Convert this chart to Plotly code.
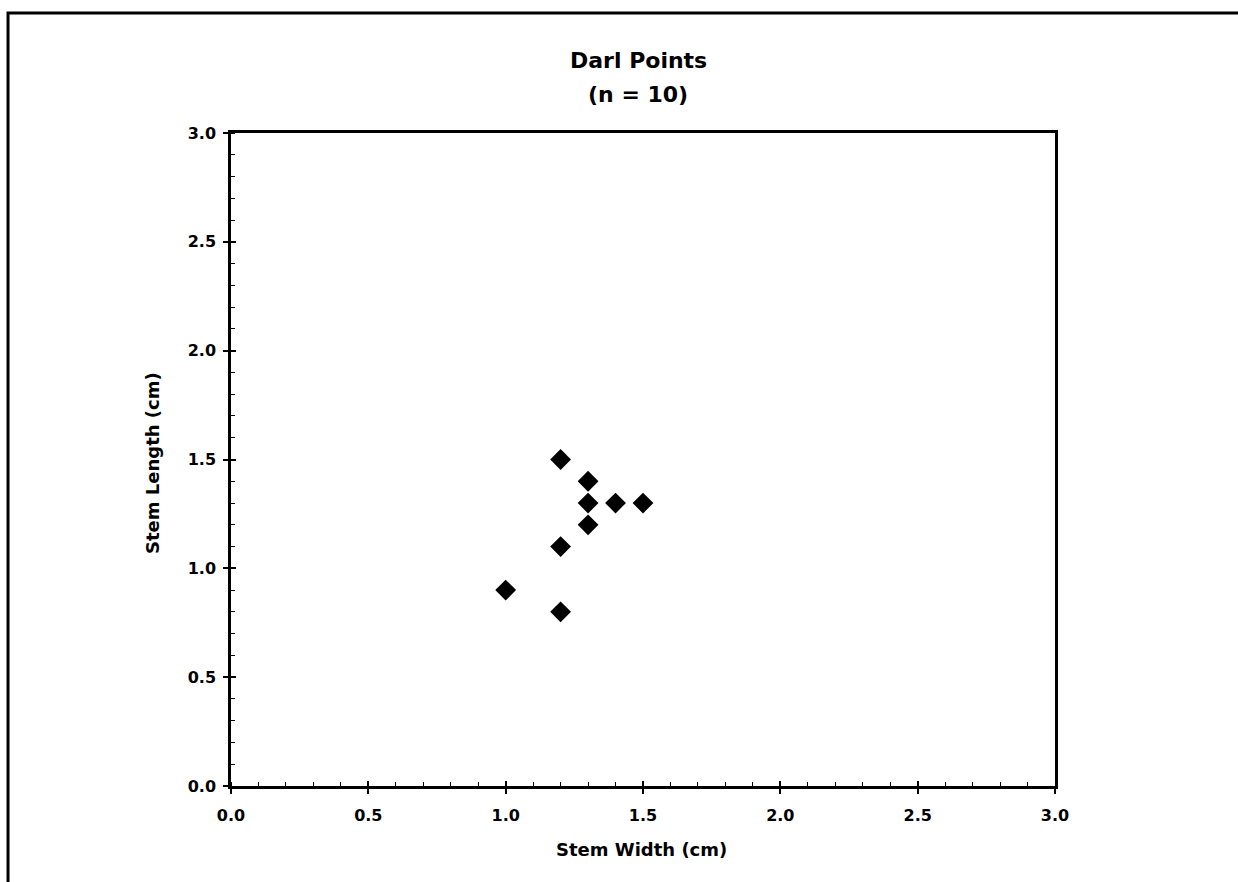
import plotly.graph_objects as go

# Darl point stem measurements (cm)
stem_width = [1.2, 1.3, 1.3, 1.4, 1.5, 1.3, 1.2, 1.0, 1.2]
stem_length = [1.5, 1.4, 1.3, 1.3, 1.3, 1.2, 1.1, 0.9, 0.8]

tick_vals = [0.0, 0.5, 1.0, 1.5, 2.0, 2.5, 3.0]
tick_text = ["0.0", "0.5", "1.0", "1.5", "2.0", "2.5", "3.0"]

title_lines = ["Darl Points", "(n = 10)"]
x_title = "Stem Width (cm)"
y_title = "Stem Length (cm)"

FONT = "DejaVu Sans, Verdana, sans-serif"

fig = go.Figure()
fig.add_trace(go.Scatter(
    x=stem_width, y=stem_length, mode="markers",
    marker=dict(symbol="diamond", size=16, color="black", line=dict(width=0)),
    showlegend=False, cliponaxis=False,
))

axis_common = dict(
    range=[0, 3], tickvals=tick_vals, ticktext=tick_text,
    showgrid=False, zeroline=False,
    showline=True, linecolor="black", linewidth=2.5, mirror=True,
    ticks="outside", ticklen=5, tickwidth=1.5, tickcolor="black",
    minor=dict(dtick=0.1, ticks="inside", ticklen=4, tickwidth=1, tickcolor="black"),
    tickfont=dict(family=FONT, size=16, color="black", weight="bold"),
)
fig.update_xaxes(**axis_common, ticklabelstandoff=8)
fig.update_yaxes(**axis_common, ticklabelstandoff=4)

# overlay axes supply the inner half of the crossing major ticks
fig.update_layout(
    xaxis2=dict(overlaying="x", range=[0, 3], tickvals=tick_vals, ticks="inside",
                ticklen=5, tickwidth=1.5, tickcolor="black", showticklabels=False,
                showgrid=False, zeroline=False, side="bottom", anchor="y"),
    yaxis2=dict(overlaying="y", range=[0, 3], tickvals=tick_vals, ticks="inside",
                ticklen=5, tickwidth=1.5, tickcolor="black", showticklabels=False,
                showgrid=False, zeroline=False, side="left", anchor="x"),
)
fig.add_trace(go.Scatter(x=[None], y=[None], xaxis="x2", yaxis="y2",
                         showlegend=False, hoverinfo="skip"))

# chart title, two lines
for text, ypos in zip(title_lines, [1.1103, 1.0582]):
    fig.add_annotation(text=f"<b>{text}</b>", xref="paper", yref="paper",
                       x=0.494, y=ypos, xanchor="center", yanchor="middle",
                       showarrow=False, font=dict(family=FONT, size=22, color="black"))

# axis titles
fig.add_annotation(text=f"<b>{x_title}</b>", xref="paper", yref="paper",
                   x=0.4976, y=-0.098, xanchor="center", yanchor="middle",
                   showarrow=False, font=dict(family=FONT, size=18, color="black"))
fig.add_annotation(text=f"<b>{y_title}</b>", xref="paper", yref="paper",
                   x=-0.0959, y=0.4946, xanchor="center", yanchor="middle",
                   textangle=-90, showarrow=False,
                   font=dict(family=FONT, size=18, color="black"))

# outer frame around the figure
fig.add_shape(type="rect", xref="paper", yref="paper",
              x0=-0.2706, x1=1.23, y0=-0.17, y1=1.1838,
              line=dict(color="black", width=3), fillcolor="rgba(0,0,0,0)", layer="below")

fig.update_layout(
    width=1238, height=882,
    margin=dict(l=231, r=183, t=133, b=96),
    paper_bgcolor="white", plot_bgcolor="white",
)

fig.write_html("out.html")
